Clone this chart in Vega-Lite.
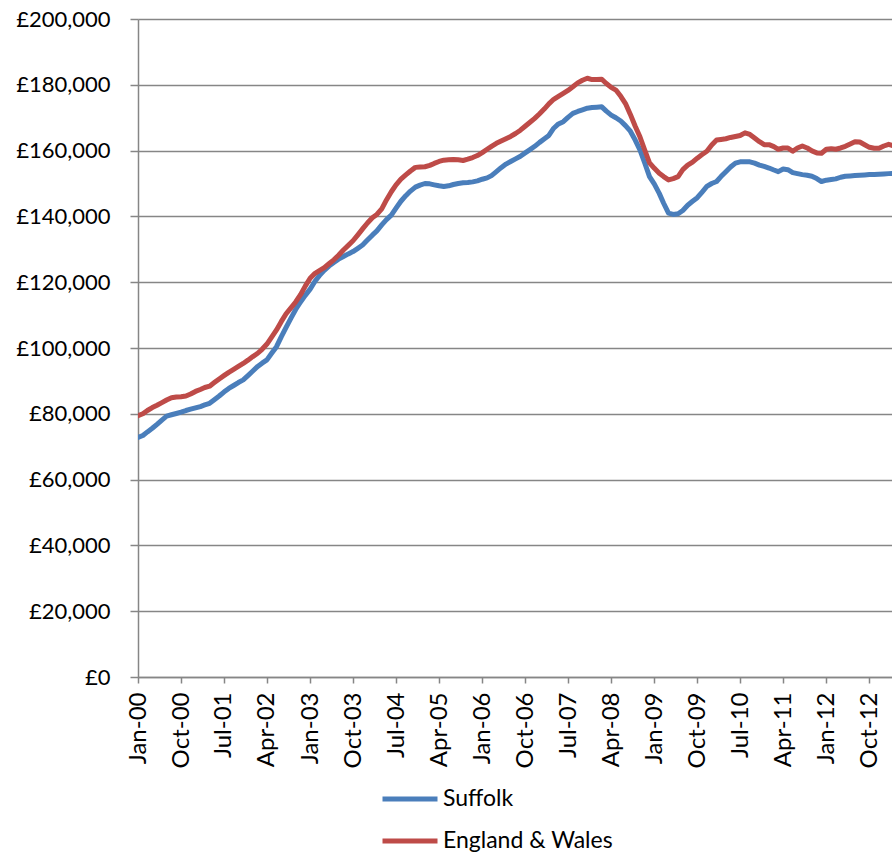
{
  "$schema": "https://vega.github.io/schema/vega-lite/v6.json",
  "autosize": "none",
  "width": 754,
  "height": 658,
  "padding": {"left": 138, "top": 19, "right": 0, "bottom": 180},
  "background": "white",
  "config": {
    "view": {"stroke": null},
    "font": "Lato",
    "axis": {"labelFont": "Lato", "labelFontSize": 22, "labelColor": "#000000", "domainColor": "#868686", "domainWidth": 1.5, "tickColor": "#868686", "tickWidth": 1.5, "gridColor": "#868686", "gridWidth": 1.5, "title": null}
  },
  "data": {"values": [
    {"month":"2000-01-01","Suffolk":72800,"England & Wales":79400},
    {"month":"2000-02-01","Suffolk":73400,"England & Wales":80000},
    {"month":"2000-03-01","Suffolk":74500,"England & Wales":81000},
    {"month":"2000-04-01","Suffolk":75600,"England & Wales":81900},
    {"month":"2000-05-01","Suffolk":76800,"England & Wales":82600},
    {"month":"2000-06-01","Suffolk":78100,"England & Wales":83400},
    {"month":"2000-07-01","Suffolk":79300,"England & Wales":84200},
    {"month":"2000-08-01","Suffolk":79700,"England & Wales":84900},
    {"month":"2000-09-01","Suffolk":80100,"England & Wales":85100},
    {"month":"2000-10-01","Suffolk":80500,"England & Wales":85200},
    {"month":"2000-11-01","Suffolk":81000,"England & Wales":85400},
    {"month":"2000-12-01","Suffolk":81400,"England & Wales":86000},
    {"month":"2001-01-01","Suffolk":81800,"England & Wales":86800},
    {"month":"2001-02-01","Suffolk":82200,"England & Wales":87400},
    {"month":"2001-03-01","Suffolk":82700,"England & Wales":88000},
    {"month":"2001-04-01","Suffolk":83200,"England & Wales":88400},
    {"month":"2001-05-01","Suffolk":84300,"England & Wales":89500},
    {"month":"2001-06-01","Suffolk":85400,"England & Wales":90600},
    {"month":"2001-07-01","Suffolk":86600,"England & Wales":91600},
    {"month":"2001-08-01","Suffolk":87700,"England & Wales":92600},
    {"month":"2001-09-01","Suffolk":88600,"England & Wales":93500},
    {"month":"2001-10-01","Suffolk":89500,"England & Wales":94400},
    {"month":"2001-11-01","Suffolk":90300,"England & Wales":95300},
    {"month":"2001-12-01","Suffolk":91600,"England & Wales":96300},
    {"month":"2002-01-01","Suffolk":93000,"England & Wales":97400},
    {"month":"2002-02-01","Suffolk":94400,"England & Wales":98400},
    {"month":"2002-03-01","Suffolk":95400,"England & Wales":99600},
    {"month":"2002-04-01","Suffolk":96400,"England & Wales":101200},
    {"month":"2002-05-01","Suffolk":98400,"England & Wales":103300},
    {"month":"2002-06-01","Suffolk":100400,"England & Wales":105500},
    {"month":"2002-07-01","Suffolk":103400,"England & Wales":108000},
    {"month":"2002-08-01","Suffolk":106300,"England & Wales":110400},
    {"month":"2002-09-01","Suffolk":109100,"England & Wales":112200},
    {"month":"2002-10-01","Suffolk":111700,"England & Wales":114000},
    {"month":"2002-11-01","Suffolk":114000,"England & Wales":116200},
    {"month":"2002-12-01","Suffolk":116000,"England & Wales":118800},
    {"month":"2003-01-01","Suffolk":117900,"England & Wales":121200},
    {"month":"2003-02-01","Suffolk":120300,"England & Wales":122700},
    {"month":"2003-03-01","Suffolk":122000,"England & Wales":123500},
    {"month":"2003-04-01","Suffolk":123600,"England & Wales":124400},
    {"month":"2003-05-01","Suffolk":124900,"England & Wales":125600},
    {"month":"2003-06-01","Suffolk":126000,"England & Wales":126800},
    {"month":"2003-07-01","Suffolk":127000,"England & Wales":128200},
    {"month":"2003-08-01","Suffolk":127800,"England & Wales":129800},
    {"month":"2003-09-01","Suffolk":128600,"England & Wales":131200},
    {"month":"2003-10-01","Suffolk":129300,"England & Wales":132600},
    {"month":"2003-11-01","Suffolk":130300,"England & Wales":134400},
    {"month":"2003-12-01","Suffolk":131300,"England & Wales":136200},
    {"month":"2004-01-01","Suffolk":132800,"England & Wales":138000},
    {"month":"2004-02-01","Suffolk":134300,"England & Wales":139600},
    {"month":"2004-03-01","Suffolk":135600,"England & Wales":140600},
    {"month":"2004-04-01","Suffolk":137400,"England & Wales":142300},
    {"month":"2004-05-01","Suffolk":139000,"England & Wales":145000},
    {"month":"2004-06-01","Suffolk":140400,"England & Wales":147500},
    {"month":"2004-07-01","Suffolk":142500,"England & Wales":149600},
    {"month":"2004-08-01","Suffolk":144600,"England & Wales":151300},
    {"month":"2004-09-01","Suffolk":146300,"England & Wales":152600},
    {"month":"2004-10-01","Suffolk":147700,"England & Wales":153800},
    {"month":"2004-11-01","Suffolk":148900,"England & Wales":154900},
    {"month":"2004-12-01","Suffolk":149500,"England & Wales":155000},
    {"month":"2005-01-01","Suffolk":150000,"England & Wales":155100},
    {"month":"2005-02-01","Suffolk":149900,"England & Wales":155500},
    {"month":"2005-03-01","Suffolk":149600,"England & Wales":156100},
    {"month":"2005-04-01","Suffolk":149300,"England & Wales":156700},
    {"month":"2005-05-01","Suffolk":149100,"England & Wales":157100},
    {"month":"2005-06-01","Suffolk":149300,"England & Wales":157200},
    {"month":"2005-07-01","Suffolk":149700,"England & Wales":157300},
    {"month":"2005-08-01","Suffolk":150000,"England & Wales":157200},
    {"month":"2005-09-01","Suffolk":150200,"England & Wales":157000},
    {"month":"2005-10-01","Suffolk":150300,"England & Wales":157400},
    {"month":"2005-11-01","Suffolk":150500,"England & Wales":157900},
    {"month":"2005-12-01","Suffolk":150800,"England & Wales":158500},
    {"month":"2006-01-01","Suffolk":151300,"England & Wales":159400},
    {"month":"2006-02-01","Suffolk":151700,"England & Wales":160400},
    {"month":"2006-03-01","Suffolk":152400,"England & Wales":161300},
    {"month":"2006-04-01","Suffolk":153600,"England & Wales":162200},
    {"month":"2006-05-01","Suffolk":154800,"England & Wales":162900},
    {"month":"2006-06-01","Suffolk":155900,"England & Wales":163600},
    {"month":"2006-07-01","Suffolk":156700,"England & Wales":164300},
    {"month":"2006-08-01","Suffolk":157500,"England & Wales":165200},
    {"month":"2006-09-01","Suffolk":158300,"England & Wales":166200},
    {"month":"2006-10-01","Suffolk":159300,"England & Wales":167400},
    {"month":"2006-11-01","Suffolk":160300,"England & Wales":168600},
    {"month":"2006-12-01","Suffolk":161300,"England & Wales":169800},
    {"month":"2007-01-01","Suffolk":162500,"England & Wales":171200},
    {"month":"2007-02-01","Suffolk":163600,"England & Wales":172700},
    {"month":"2007-03-01","Suffolk":164600,"England & Wales":174200},
    {"month":"2007-04-01","Suffolk":166800,"England & Wales":175600},
    {"month":"2007-05-01","Suffolk":168100,"England & Wales":176500},
    {"month":"2007-06-01","Suffolk":168800,"England & Wales":177400},
    {"month":"2007-07-01","Suffolk":170100,"England & Wales":178300},
    {"month":"2007-08-01","Suffolk":171300,"England & Wales":179400},
    {"month":"2007-09-01","Suffolk":171900,"England & Wales":180600},
    {"month":"2007-10-01","Suffolk":172400,"England & Wales":181400},
    {"month":"2007-11-01","Suffolk":172900,"England & Wales":182000},
    {"month":"2007-12-01","Suffolk":173100,"England & Wales":181600},
    {"month":"2008-01-01","Suffolk":173200,"England & Wales":181600},
    {"month":"2008-02-01","Suffolk":173300,"England & Wales":181700},
    {"month":"2008-03-01","Suffolk":172000,"England & Wales":180400},
    {"month":"2008-04-01","Suffolk":170800,"England & Wales":179200},
    {"month":"2008-05-01","Suffolk":170000,"England & Wales":178400},
    {"month":"2008-06-01","Suffolk":169000,"England & Wales":176500},
    {"month":"2008-07-01","Suffolk":167600,"England & Wales":174300},
    {"month":"2008-08-01","Suffolk":165900,"England & Wales":171000},
    {"month":"2008-09-01","Suffolk":163200,"England & Wales":167400},
    {"month":"2008-10-01","Suffolk":160200,"England & Wales":164200},
    {"month":"2008-11-01","Suffolk":156200,"England & Wales":160100},
    {"month":"2008-12-01","Suffolk":152100,"England & Wales":156300},
    {"month":"2009-01-01","Suffolk":149800,"England & Wales":154600},
    {"month":"2009-02-01","Suffolk":147000,"England & Wales":153100},
    {"month":"2009-03-01","Suffolk":144000,"England & Wales":152100},
    {"month":"2009-04-01","Suffolk":141000,"England & Wales":151100},
    {"month":"2009-05-01","Suffolk":140600,"England & Wales":151500},
    {"month":"2009-06-01","Suffolk":140800,"England & Wales":152100},
    {"month":"2009-07-01","Suffolk":141800,"England & Wales":154200},
    {"month":"2009-08-01","Suffolk":143400,"England & Wales":155600},
    {"month":"2009-09-01","Suffolk":144600,"England & Wales":156500},
    {"month":"2009-10-01","Suffolk":145700,"England & Wales":157700},
    {"month":"2009-11-01","Suffolk":147400,"England & Wales":158800},
    {"month":"2009-12-01","Suffolk":149100,"England & Wales":159800},
    {"month":"2010-01-01","Suffolk":150000,"England & Wales":161700},
    {"month":"2010-02-01","Suffolk":150600,"England & Wales":163200},
    {"month":"2010-03-01","Suffolk":152100,"England & Wales":163400},
    {"month":"2010-04-01","Suffolk":153600,"England & Wales":163600},
    {"month":"2010-05-01","Suffolk":155000,"England & Wales":164000},
    {"month":"2010-06-01","Suffolk":156200,"England & Wales":164300},
    {"month":"2010-07-01","Suffolk":156600,"England & Wales":164600},
    {"month":"2010-08-01","Suffolk":156600,"England & Wales":165400},
    {"month":"2010-09-01","Suffolk":156600,"England & Wales":164900},
    {"month":"2010-10-01","Suffolk":156200,"England & Wales":163800},
    {"month":"2010-11-01","Suffolk":155600,"England & Wales":162700},
    {"month":"2010-12-01","Suffolk":155200,"England & Wales":161800},
    {"month":"2011-01-01","Suffolk":154700,"England & Wales":161800},
    {"month":"2011-02-01","Suffolk":154100,"England & Wales":161200},
    {"month":"2011-03-01","Suffolk":153600,"England & Wales":160400},
    {"month":"2011-04-01","Suffolk":154400,"England & Wales":160800},
    {"month":"2011-05-01","Suffolk":154200,"England & Wales":160800},
    {"month":"2011-06-01","Suffolk":153300,"England & Wales":159800},
    {"month":"2011-07-01","Suffolk":153000,"England & Wales":160800},
    {"month":"2011-08-01","Suffolk":152700,"England & Wales":161400},
    {"month":"2011-09-01","Suffolk":152500,"England & Wales":160800},
    {"month":"2011-10-01","Suffolk":152200,"England & Wales":159900},
    {"month":"2011-11-01","Suffolk":151500,"England & Wales":159300},
    {"month":"2011-12-01","Suffolk":150600,"England & Wales":159200},
    {"month":"2012-01-01","Suffolk":151000,"England & Wales":160400},
    {"month":"2012-02-01","Suffolk":151200,"England & Wales":160600},
    {"month":"2012-03-01","Suffolk":151400,"England & Wales":160400},
    {"month":"2012-04-01","Suffolk":151900,"England & Wales":160800},
    {"month":"2012-05-01","Suffolk":152200,"England & Wales":161300},
    {"month":"2012-06-01","Suffolk":152300,"England & Wales":162000},
    {"month":"2012-07-01","Suffolk":152400,"England & Wales":162700},
    {"month":"2012-08-01","Suffolk":152500,"England & Wales":162600},
    {"month":"2012-09-01","Suffolk":152600,"England & Wales":161800},
    {"month":"2012-10-01","Suffolk":152700,"England & Wales":161000},
    {"month":"2012-11-01","Suffolk":152700,"England & Wales":160700},
    {"month":"2012-12-01","Suffolk":152800,"England & Wales":160700},
    {"month":"2013-01-01","Suffolk":152900,"England & Wales":161400},
    {"month":"2013-02-01","Suffolk":153000,"England & Wales":161900},
    {"month":"2013-03-01","Suffolk":153100,"England & Wales":161500}
  ]},
  "transform": [{"fold": ["Suffolk", "England & Wales"], "as": ["area", "price"]}],
  "mark": {"type": "line", "strokeWidth": 5, "clip": true, "strokeJoin": "round", "strokeCap": "round"},
  "encoding": {
    "x": {
      "field": "month", "type": "temporal",
      "scale": {"type": "utc", "domain": [{"year": 2000, "month": 1, "date": 1, "utc": true}, {"year": 2013, "month": 2, "date": 22, "utc": true}]},
      "axis": {
        "format": "%b-%y", "labelAngle": 270, "labelAlign": "right", "labelBaseline": "middle", "labelPadding": 9, "labelFontSize": 24, "tickSize": 6, "grid": false, "labelOverlap": false, "labelFlush": false,
        "values": [
          {"year": 2000, "month": 1, "date": 1, "utc": true},
          {"year": 2000, "month": 10, "date": 1, "utc": true},
          {"year": 2001, "month": 7, "date": 1, "utc": true},
          {"year": 2002, "month": 4, "date": 1, "utc": true},
          {"year": 2003, "month": 1, "date": 1, "utc": true},
          {"year": 2003, "month": 10, "date": 1, "utc": true},
          {"year": 2004, "month": 7, "date": 1, "utc": true},
          {"year": 2005, "month": 4, "date": 1, "utc": true},
          {"year": 2006, "month": 1, "date": 1, "utc": true},
          {"year": 2006, "month": 10, "date": 1, "utc": true},
          {"year": 2007, "month": 7, "date": 1, "utc": true},
          {"year": 2008, "month": 4, "date": 1, "utc": true},
          {"year": 2009, "month": 1, "date": 1, "utc": true},
          {"year": 2009, "month": 10, "date": 1, "utc": true},
          {"year": 2010, "month": 7, "date": 1, "utc": true},
          {"year": 2011, "month": 4, "date": 1, "utc": true},
          {"year": 2012, "month": 1, "date": 1, "utc": true},
          {"year": 2012, "month": 10, "date": 1, "utc": true}
        ]
      }
    },
    "y": {
      "field": "price", "type": "quantitative",
      "scale": {"domain": [0, 200000], "nice": false},
      "axis": {
        "values": [0, 20000, 40000, 60000, 80000, 100000, 120000, 140000, 160000, 180000, 200000],
        "labelExpr": "'£' + format(datum.value, ',')",
        "tickSize": 8, "labelPadding": 20, "grid": true
      }
    },
    "color": {
      "field": "area", "type": "nominal",
      "scale": {"domain": ["Suffolk", "England & Wales"], "range": ["#4a7ebb", "#be4b48"]},
      "legend": {
        "orient": "none", "legendX": 242, "legendY": 750, "direction": "vertical", "title": null,
        "symbolType": "stroke", "symbolSize": 3025, "symbolStrokeWidth": 5,
        "labelFont": "Lato", "labelFontSize": 23, "labelColor": "#000000", "labelOffset": 3, "labelLimit": 0,
        "rowPadding": -17, "padding": 0
      }
    }
  }
}
